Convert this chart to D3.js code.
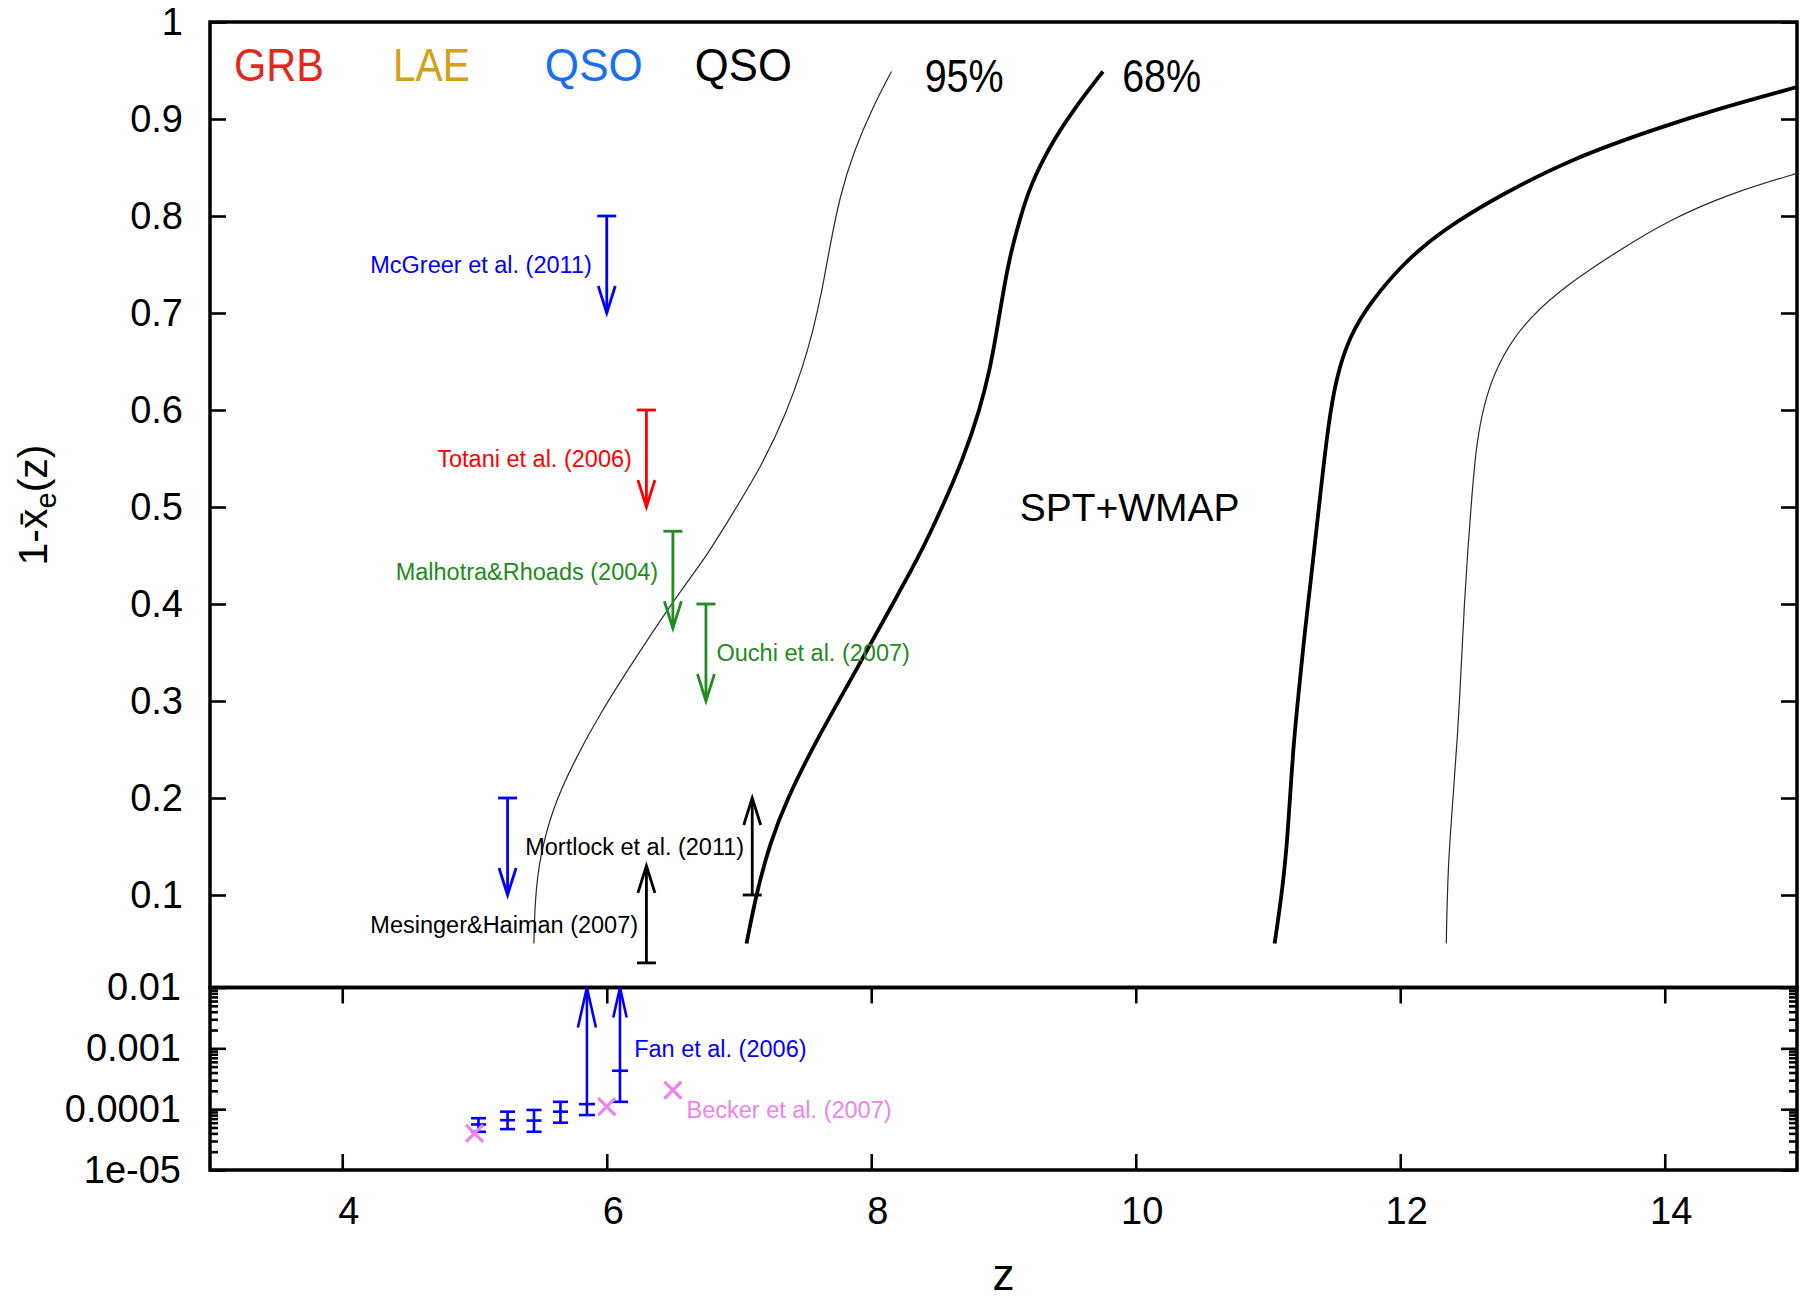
<!DOCTYPE html>
<html>
<head>
<meta charset="utf-8">
<script src="https://cdn.jsdelivr.net/npm/d3@7"></script>
<style>
  html, body { margin: 0; padding: 0; background: #fff; }
  svg { display: block; }
  text { font-family: "Liberation Sans", Arial, Helvetica, sans-serif; }
</style>
</head>
<body>
<svg id="chart" width="1804" height="1301"></svg>
<script>
// ---- Ionization history bounds from SPT+WMAP: [z, 1 - x_e] ----
const lower95 = [[5.449,0.050],[5.457,0.095],[5.494,0.140],[5.595,0.191],[5.746,0.236],[5.948,0.287],
  [6.225,0.346],[6.527,0.408],[6.754,0.449],[6.955,0.494],[7.182,0.545],[7.359,0.597],[7.484,0.645],
  [7.560,0.682],[7.624,0.720],[7.686,0.768],[7.762,0.820],[7.863,0.865],[8.014,0.913],[8.153,0.949]];
const lower68 = [[7.057,0.050],[7.132,0.102],[7.233,0.153],[7.359,0.198],[7.586,0.260],[7.888,0.332],
  [8.165,0.401],[8.354,0.447],[8.518,0.494],[8.694,0.549],[8.820,0.600],[8.896,0.641],[8.946,0.679],
  [8.996,0.720],[9.047,0.758],[9.122,0.796],[9.198,0.830],[9.349,0.872],[9.525,0.909],[9.752,0.949]];
const upper68 = [[11.050,0.050],[11.113,0.109],[11.151,0.164],[11.188,0.250],[11.239,0.318],[11.277,0.370],
  [11.327,0.428],[11.385,0.500],[11.453,0.583],[11.516,0.634],[11.617,0.676],[11.768,0.710],[12.020,0.751],
  [12.322,0.786],[12.776,0.823],[13.280,0.858],[13.909,0.889],[14.413,0.911],[15.000,0.933]];
const upper95 = [[12.348,0.050],[12.360,0.129],[12.398,0.198],[12.435,0.267],[12.461,0.335],[12.486,0.404],
  [12.511,0.456],[12.537,0.503],[12.574,0.566],[12.650,0.617],[12.776,0.658],[12.977,0.696],[13.280,0.731],
  [13.658,0.765],[14.036,0.796],[14.489,0.823],[15.000,0.844]];

// ---- Limits on the neutral fraction (linear panel) ----
const limitNames  = ["McGreer et al. (2011)", "Totani et al. (2006)", "Malhotra&Rhoads (2004)", "Ouchi et al. (2007)", "QSO", "Mesinger&Haiman (2007)", "Mortlock et al. (2011)"];
const limitZ      = [6.0, 6.3, 6.5, 6.75, 5.25, 6.3, 7.1];
const limitFrom   = [0.8, 0.6, 0.475, 0.4, 0.2, 0.03, 0.1];
const limitTo     = [0.7, 0.5, 0.375, 0.3, 0.1, 0.13, 0.2];
const limitColors = ["#0000ff", "#ff0000", "#228b22", "#228b22", "#0000ff", "#000000", "#000000"];

// ---- Fan et al. (2006) Gunn-Peterson measurements (log panel) ----
const fanZ   = [5.03, 5.25, 5.45, 5.65];
const fanVal = [5.6e-5, 6.6e-5, 6.5e-5, 9.1e-5];
const fanLo  = [4.25e-5, 4.7e-5, 4.25e-5, 6.0e-5];
const fanHi  = [7.1e-5, 9.1e-5, 9.7e-5, 1.32e-4];
// lower limits: bottom of bar and central value
const fanLimZ   = [5.85, 6.1];
const fanLimLo  = [8.0e-5, 1.32e-4];
const fanLimVal = [1.21e-4, 4.28e-4];

// ---- Becker et al. (2007) ----
const beckerZ   = [5.0, 6.0, 6.5];
const beckerVal = [4.0e-5, 1.1e-4, 2.06e-4];

// ---- Axis ticks ----
const xTicks      = [4, 6, 8, 10, 12, 14];
const linTicks    = [1, 0.9, 0.8, 0.7, 0.6, 0.5, 0.4, 0.3, 0.2, 0.1];
const linLabels   = ["1", "0.9", "0.8", "0.7", "0.6", "0.5", "0.4", "0.3", "0.2", "0.1"];
const logTicks    = [1e-2, 1e-3, 1e-4, 1e-5];
const logLabels   = ["0.01", "0.001", "0.0001", "1e-05"];

// ---- Annotations (data coordinates) ----
const citeLabels = [
  { text: "McGreer et al. (2011)",   z: 5.887, v: 0.750, anchor: "end",   color: "#0000ff" },
  { text: "Totani et al. (2006)",    z: 6.190, v: 0.550, anchor: "end",   color: "#ff0000" },
  { text: "Malhotra&Rhoads (2004)",  z: 6.389, v: 0.433, anchor: "end",   color: "#228b22" },
  { text: "Ouchi et al. (2007)",     z: 6.830, v: 0.350, anchor: "start", color: "#228b22" },
  { text: "Mortlock et al. (2011)",  z: 7.039, v: 0.150, anchor: "end",   color: "#000000" },
  { text: "Mesinger&Haiman (2007)",  z: 6.237, v: 0.069, anchor: "end",   color: "#000000" }
];
const logLabelsText = [
  { text: "Fan et al. (2006)",    z: 6.207, v: 1.0e-3, color: "#0000ff" },
  { text: "Becker et al. (2007)", z: 6.603, v: 9.7e-5, color: "#ee82ee" }
];
const keyLabels = [
  { text: "GRB", z: 3.181, v: 0.939, color: "#e2281a", len: 90 },
  { text: "LAE", z: 4.383, v: 0.939, color: "#d4a014", len: 77 },
  { text: "QSO", z: 5.532, v: 0.939, color: "#1a6ef0", len: 98 },
  { text: "QSO", z: 6.666, v: 0.939, color: "#000000", len: 97 },
  { text: "95%", z: 8.404, v: 0.928, color: "#000000", len: 79 },
  { text: "68%", z: 9.897, v: 0.928, color: "#000000", len: 79 }
];

// ---- Scales ----
const x    = d3.scaleLinear().domain([3, 15]).range([210, 1797]);
const yLin = d3.scaleLinear().domain([0, 1]).range([992, 22]);
const yLog = d3.scaleLog().domain([1e-5, 1e-2]).range([1170, 987.5]);
const panelTop = yLin(1), panelMid = yLog(1e-2), panelBot = yLog(1e-5);

const svg = d3.select("#chart");

function styleAxis(g, fontSize) {
  g.select(".domain").remove();
  g.selectAll(".tick line").attr("stroke", "#000").attr("stroke-width", 2.6);
  g.selectAll(".tick text").attr("fill", "#000")
    .attr("font-family", '"Liberation Sans", Arial, sans-serif')
    .attr("font-size", fontSize);
  g.attr("font-family", null).attr("font-size", null);
}

// ---- Axes: linear panel ----
svg.append("g").attr("transform", `translate(${x(3)},0)`)
  .call(d3.axisLeft(yLin).tickValues(linTicks).tickFormat((d, i) => linLabels[i])
    .tickSizeInner(-16).tickSizeOuter(0).tickPadding(27))
  .call(g => styleAxis(g, 38));
svg.append("g").attr("transform", `translate(${x(15)},0)`)
  .call(d3.axisRight(yLin).tickValues(linTicks).tickFormat("")
    .tickSizeInner(-16).tickSizeOuter(0))
  .call(g => styleAxis(g, 38));

// ---- Axes: log panel ----
const minorLog = yLog.ticks().filter(d => Math.abs(Math.log10(d) - Math.round(Math.log10(d))) > 1e-6);
svg.append("g").attr("transform", `translate(${x(3)},0)`)
  .call(d3.axisLeft(yLog).tickValues(logTicks).tickFormat((d, i) => logLabels[i])
    .tickSizeInner(-16).tickSizeOuter(0).tickPadding(29))
  .call(g => styleAxis(g, 38));
svg.append("g").attr("transform", `translate(${x(3)},0)`)
  .call(d3.axisLeft(yLog).tickValues(minorLog).tickFormat("").tickSizeInner(-8).tickSizeOuter(0))
  .call(g => styleAxis(g, 38));
svg.append("g").attr("transform", `translate(${x(15)},0)`)
  .call(d3.axisRight(yLog).tickValues(logTicks).tickFormat("").tickSizeInner(-16).tickSizeOuter(0))
  .call(g => styleAxis(g, 38));
svg.append("g").attr("transform", `translate(${x(15)},0)`)
  .call(d3.axisRight(yLog).tickValues(minorLog).tickFormat("").tickSizeInner(-8).tickSizeOuter(0))
  .call(g => styleAxis(g, 38));

// ---- Axes: z ----
svg.append("g").attr("transform", `translate(0,${panelBot})`)
  .call(d3.axisBottom(x).tickValues(xTicks).tickFormat(d3.format("d"))
    .tickSizeInner(-16).tickSizeOuter(0).tickPadding(27))
  .call(g => styleAxis(g, 38))
  .call(g => g.selectAll(".tick text").attr("dx", 6));
svg.append("g").attr("transform", `translate(0,${panelMid})`)
  .call(d3.axisTop(x).tickValues(xTicks).tickFormat("").tickSizeInner(-16).tickSizeOuter(0))
  .call(g => styleAxis(g, 38));

// ---- Frames ----
svg.append("rect").attr("x", x(3)).attr("y", panelTop)
  .attr("width", x(15) - x(3)).attr("height", panelMid - panelTop)
  .attr("fill", "none").attr("stroke", "#000").attr("stroke-width", 3.5);
svg.append("rect").attr("x", x(3)).attr("y", panelMid)
  .attr("width", x(15) - x(3)).attr("height", panelBot - panelMid)
  .attr("fill", "none").attr("stroke", "#000").attr("stroke-width", 3.5);

// ---- Axis titles ----
const yTitle = svg.append("text")
  .attr("transform", `translate(47,505) rotate(-90)`)
  .attr("text-anchor", "middle").attr("font-size", 41).attr("fill", "#000");
yTitle.append("tspan").text("1-x\u0304");
yTitle.append("tspan").attr("font-size", 29).attr("dy", 9).text("e");
yTitle.append("tspan").attr("dy", -9).text("(z)");

svg.append("text").attr("x", (x(3) + x(15)) / 2).attr("y", 1290)
  .attr("text-anchor", "middle").attr("font-size", 44).attr("fill", "#000").text("z");

// ---- Reionization bound curves ----
const line = d3.line().x(d => x(d[0])).y(d => yLin(d[1])).curve(d3.curveBasis);
const curves = [
  { data: lower95, w: 1.2, c: "#2a2a2a" },
  { data: upper95, w: 1.2, c: "#2a2a2a" },
  { data: lower68, w: 3.8, c: "#000" },
  { data: upper68, w: 3.8, c: "#000" }
];
svg.append("g").selectAll("path").data(curves).join("path")
  .attr("d", d => line(d.data)).attr("fill", "none")
  .attr("stroke", d => d.c).attr("stroke-width", d => d.w)
  .attr("stroke-linecap", "butt");

// ---- Limit arrows ----
function drawArrow(g, xp, y0, y1, color, cap, headLen, headHalf, width) {
  g.append("line").attr("x1", xp).attr("x2", xp).attr("y1", y0).attr("y2", y1)
    .attr("stroke", color).attr("stroke-width", width);
  if (cap > 0) {
    g.append("line").attr("x1", xp - cap).attr("x2", xp + cap).attr("y1", y0).attr("y2", y0)
      .attr("stroke", color).attr("stroke-width", width);
  }
  const dir = y1 > y0 ? -1 : 1;
  g.append("path")
    .attr("d", `M${xp - headHalf},${y1 + dir * headLen} L${xp},${y1} L${xp + headHalf},${y1 + dir * headLen}`)
    .attr("fill", "none").attr("stroke", color).attr("stroke-width", width)
    .attr("stroke-linejoin", "miter");
}

const limG = svg.append("g");
limitZ.forEach((z, i) => {
  drawArrow(limG, x(z), yLin(limitFrom[i]), yLin(limitTo[i]), limitColors[i], 9.5, 27, 8.5, 2.8);
});

// ---- Fan et al. error bars ----
const fanG = svg.append("g").attr("stroke", "#0000ff").attr("stroke-width", 2.6);
fanZ.forEach((z, i) => {
  const xp = x(z);
  fanG.append("line").attr("x1", xp).attr("x2", xp).attr("y1", yLog(fanLo[i])).attr("y2", yLog(fanHi[i]));
  [fanLo[i], fanHi[i], fanVal[i]].forEach(v => {
    fanG.append("line").attr("x1", xp - 7.5).attr("x2", xp + 7.5).attr("y1", yLog(v)).attr("y2", yLog(v));
  });
});
const fanHeads = [{ len: 40, half: 9 }, { len: 30, half: 6.7 }];
fanLimZ.forEach((z, i) => {
  const xp = x(z);
  drawArrow(fanG, xp, yLog(fanLimLo[i]), panelMid, "#0000ff", 8, fanHeads[i].len, fanHeads[i].half, 2.6);
  fanG.append("line").attr("x1", xp - 8).attr("x2", xp + 8)
    .attr("y1", yLog(fanLimVal[i])).attr("y2", yLog(fanLimVal[i]));
});

// ---- Becker et al. crosses ----
const beckG = svg.append("g").attr("stroke", "#ee82ee").attr("stroke-width", 3.2);
beckerZ.forEach((z, i) => {
  const xp = x(z), yp = yLog(beckerVal[i]), s = 8.5;
  beckG.append("path").attr("d", `M${xp - s},${yp - s} L${xp + s},${yp + s} M${xp - s},${yp + s} L${xp + s},${yp - s}`);
});

// ---- Citation labels ----
svg.append("g").selectAll("text").data(citeLabels).join("text")
  .attr("x", d => x(d.z)).attr("y", d => yLin(d.v)).attr("dy", "0.35em")
  .attr("text-anchor", d => d.anchor).attr("fill", d => d.color)
  .attr("font-size", 23.5).text(d => d.text);
svg.append("g").selectAll("text").data(logLabelsText).join("text")
  .attr("x", d => x(d.z)).attr("y", d => yLog(d.v)).attr("dy", "0.35em")
  .attr("text-anchor", "start").attr("fill", d => d.color)
  .attr("font-size", 23.5).text(d => d.text);

svg.append("text").attr("x", x(9.122)).attr("y", yLin(0.5)).attr("dy", "0.35em")
  .attr("font-size", 39).attr("fill", "#000").text("SPT+WMAP");

// ---- Probe key and confidence labels ----
svg.append("g").selectAll("text").data(keyLabels).join("text")
  .attr("x", d => x(d.z)).attr("y", d => yLin(d.v))
  .attr("font-family", 'Lato, "Open Sans", sans-serif').attr("font-size", 46)
  .attr("fill", d => d.color)
  .attr("textLength", d => d.len).attr("lengthAdjust", "spacingAndGlyphs")
  .text(d => d.text);
</script>
</body>
</html>
